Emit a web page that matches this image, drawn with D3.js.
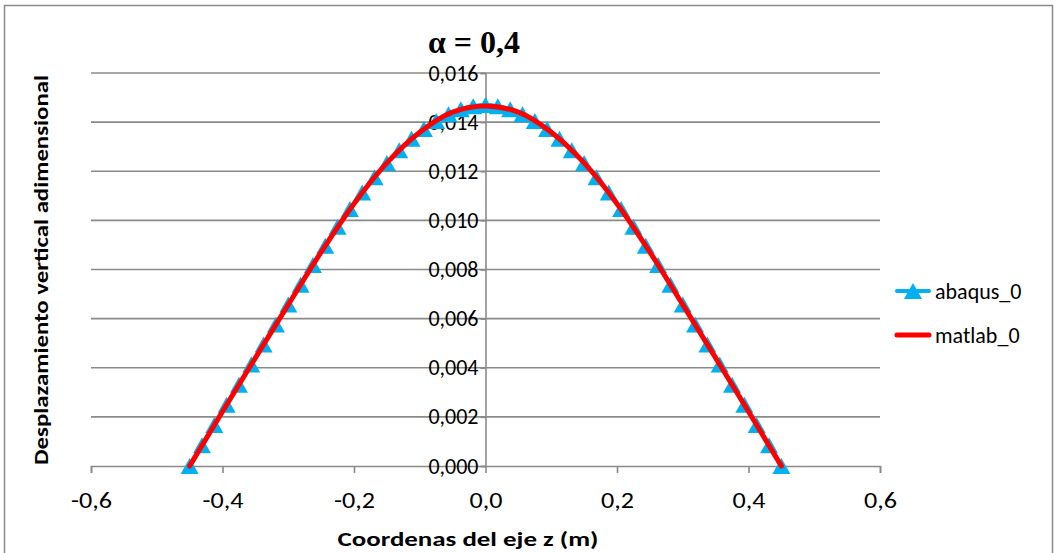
<!DOCTYPE html>
<html><head><meta charset="utf-8">
<script src="https://cdn.jsdelivr.net/npm/d3@7"></script>
<style>body{margin:0;background:#fff}svg{display:block}</style>
</head><body><svg id="c" width="1060" height="553"></svg>
<script>
// ---- data ----
const abaqusZ = [-0.45,-0.43125,-0.4125,-0.39375,-0.375,-0.35625,-0.3375,-0.31875,-0.3,-0.28125,-0.2625,-0.24375,-0.225,-0.20625,-0.1875,-0.16875,-0.15,-0.13125,-0.1125,-0.09375,-0.075,-0.05625,-0.0375,-0.01875,0,
 0.01875,0.0375,0.05625,0.075,0.09375,0.1125,0.13125,0.15,0.16875,0.1875,0.20625,0.225,0.24375,0.2625,0.28125,0.3,0.31875,0.3375,0.35625,0.375,0.39375,0.4125,0.43125,0.45];
const abaqusV = [0.00000,0.00084,0.00167,0.00249,0.00331,0.00413,0.00495,0.00576,0.00657,0.00738,0.00818,0.00897,0.00974,0.01046,0.01113,0.01176,0.01234,0.01286,0.01332,0.01372,0.01405,0.01432,0.01452,0.01465,0.01470,
 0.01465,0.01452,0.01432,0.01405,0.01372,0.01332,0.01286,0.01234,0.01176,0.01113,0.01046,0.00974,0.00897,0.00818,0.00738,0.00657,0.00576,0.00495,0.00413,0.00331,0.00249,0.00167,0.00084,0.00000];
const matlabZ = [-0.45,-0.4,-0.35,-0.3,-0.25,-0.2,-0.15,-0.1,-0.05,0,0.05,0.1,0.15,0.2,0.25,0.3,0.35,0.4,0.45];
const matlabV = [0.00000,0.00222,0.00440,0.00657,0.00871,0.01068,0.01234,0.01359,0.01441,0.01466,0.01441,0.01359,0.01234,0.01068,0.00871,0.00657,0.00440,0.00222,0.00000];
const xTicks = [-0.6,-0.4,-0.2,0,0.2,0.4,0.6];
const yTicks = [0,0.002,0.004,0.006,0.008,0.010,0.012,0.014,0.016];
const seriesNames = ["abaqus_0","matlab_0"];
const titleText = "α = 0,4";
const xTitle = "Coordenas del eje z (m)";
const yTitle = "Desplazamiento vertical adimensional";

// ---- drawing ----
const svg = d3.select("#c");
const x = d3.scaleLinear().domain([-0.6,0.6]).range([91,880]);
const y = d3.scaleLinear().domain([0,0.016]).range([466,73]);
const fmtX = d => d3.format(".1f")(d).replace(".",",").replace("−","-");
const fmtY = d => d3.format(".3f")(d).replace(".",",");
const font = "Carlito, Calibri, 'Open Sans', sans-serif";
const gridCol = "#8a8a8a";
const blue = "#00b0f0", red = "#ff0000";

// outer border
svg.append("rect").attr("x",4.5).attr("y",5.5).attr("width",1048).attr("height",560)
  .attr("fill","none").attr("stroke","#8a8a8a").attr("stroke-width",1.5);

// gridlines
svg.append("g").selectAll("line").data(yTicks.slice(1)).join("line")
  .attr("x1",x(-0.6)).attr("x2",x(0.6)).attr("y1",d=>y(d)).attr("y2",d=>y(d))
  .attr("stroke",gridCol).attr("stroke-width",1.6);

// x axis
const xAxis = svg.append("g").attr("transform",`translate(0,${y(0)})`)
  .call(d3.axisBottom(x).tickValues(xTicks).tickFormat(fmtX).tickSize(7).tickPadding(19));
xAxis.select(".domain").attr("stroke",gridCol).attr("stroke-width",1.6);
xAxis.selectAll(".tick line").attr("stroke",gridCol).attr("stroke-width",1.6);
xAxis.selectAll("text").attr("font-family",font).attr("font-size",22).attr("fill","#000")
  .attr("textLength",d=>d<0?41:33).attr("lengthAdjust","spacingAndGlyphs");

// y axis at x=0
const yAxis = svg.append("g").attr("transform",`translate(${x(0)},0)`)
  .call(d3.axisLeft(y).tickValues(yTicks).tickFormat(fmtY).tickSize(5).tickPadding(2));
yAxis.select(".domain").attr("stroke",gridCol).attr("stroke-width",1.6);
yAxis.selectAll(".tick line").attr("stroke",gridCol).attr("stroke-width",1.6);
yAxis.selectAll("text").attr("font-family",font).attr("font-size",22).attr("fill","#000");

// series
const abData = abaqusZ.map((z,i)=>[z,abaqusV[i]]);
const mlData = matlabZ.map((z,i)=>[z,matlabV[i]]);
const line = d3.line().x(d=>x(d[0])).y(d=>y(d[1])).curve(d3.curveMonotoneX);
svg.append("path").datum(abData).attr("d",line).attr("fill","none").attr("stroke",blue).attr("stroke-width",4);
const tri = "M0,-8L9,8L-9,8Z";
svg.append("g").selectAll("path").data(abData).join("path")
  .attr("d",tri).attr("transform",d=>`translate(${x(d[0])},${y(d[1])})`).attr("fill",blue);
svg.append("path").datum(mlData).attr("d",line).attr("fill","none").attr("stroke",red)
  .attr("stroke-width",5).attr("stroke-linejoin","round").attr("stroke-linecap","round");

// title
svg.append("text").attr("x",474).attr("y",53).attr("text-anchor","middle")
  .attr("font-family","'Liberation Serif','Times New Roman',serif").attr("font-weight","bold")
  .attr("font-size",32).text(titleText);

// axis titles
svg.append("text").attr("x",468).attr("y",546).attr("text-anchor","middle")
  .attr("font-family",font).attr("font-weight","bold").attr("font-size",21)
  .attr("textLength",261).attr("lengthAdjust","spacingAndGlyphs").text(xTitle);
svg.append("text").attr("transform","translate(48,270) rotate(-90)").attr("text-anchor","middle")
  .attr("font-family",font).attr("font-weight","bold").attr("font-size",21)
  .attr("textLength",390).attr("lengthAdjust","spacingAndGlyphs").text(yTitle);

// legend
const lg = svg.append("g");
const ly = [291,335];
lg.append("line").attr("x1",897).attr("x2",929).attr("y1",ly[0]).attr("y2",ly[0]).attr("stroke",blue).attr("stroke-width",4).attr("stroke-linecap","round");
lg.append("path").attr("d",tri).attr("transform",`translate(913,${ly[0]})`).attr("fill",blue);
lg.append("line").attr("x1",897).attr("x2",929).attr("y1",ly[1]).attr("y2",ly[1]).attr("stroke",red).attr("stroke-width",5).attr("stroke-linecap","round");
lg.selectAll("text.l").data(seriesNames).join("text").attr("class","l")
  .attr("x",935).attr("y",(d,i)=>ly[i]+8).attr("font-family",font).attr("font-size",22).text(d=>d);
</script></body></html>
